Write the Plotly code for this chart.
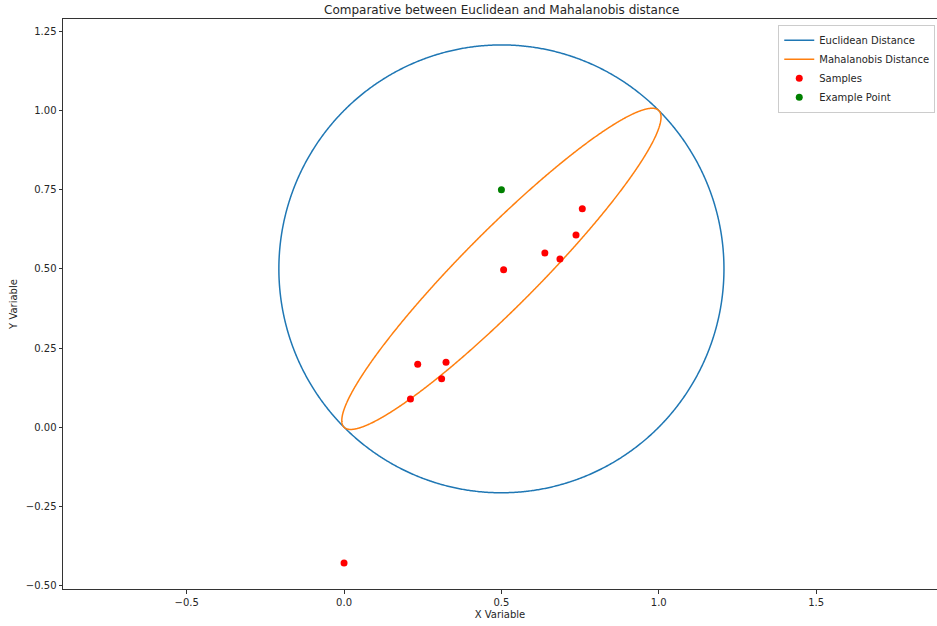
import numpy as np
import plotly.graph_objects as go

# Sample observations
sample_x = [0.0, 0.234, 0.324, 0.310, 0.211, 0.507, 0.638, 0.686, 0.737, 0.757]
sample_y = [-0.429, 0.199, 0.205, 0.153, 0.089, 0.497, 0.550, 0.531, 0.607, 0.690]

# Point used for the comparison
example_x = [0.5]
example_y = [0.75]

# Shared centre of both distance contours
center = (0.5, 0.5)
euclid_radius = 0.7071          # circle radius
maha_semi_major = 0.7071        # ellipse half-length along the main diagonal
maha_semi_minor = 0.12          # ellipse half-width across it
maha_angle_deg = 45.0

# Axis ticks
x_tick_vals = [-0.5, 0.0, 0.5, 1.0, 1.5]
x_tick_text = ["\u22120.5", "0.0", "0.5", "1.0", "1.5"]
y_tick_vals = [-0.5, -0.25, 0.0, 0.25, 0.5, 0.75, 1.0, 1.25]
y_tick_text = ["\u22120.50", "\u22120.25", "0.00", "0.25", "0.50", "0.75", "1.00", "1.25"]

# Contour curves
t = np.linspace(0, 2 * np.pi, 1200)
circ_x = center[0] + euclid_radius * np.cos(t)
circ_y = center[1] + euclid_radius * np.sin(t)

th = np.deg2rad(maha_angle_deg)
ex = maha_semi_major * np.cos(t)
ey = maha_semi_minor * np.sin(t)
ell_x = center[0] + ex * np.cos(th) - ey * np.sin(th)
ell_y = center[1] + ex * np.sin(th) + ey * np.cos(th)

FONT = "DejaVu Sans"

fig = go.Figure()
fig.add_trace(go.Scatter(x=circ_x, y=circ_y, mode="lines", name="Euclidean Distance",
                         line=dict(color="#1f77b4", width=1.5, simplify=False)))
fig.add_trace(go.Scatter(x=ell_x, y=ell_y, mode="lines", name="Mahalanobis Distance",
                         line=dict(color="#ff7f0e", width=1.5, simplify=False)))
fig.add_trace(go.Scatter(x=sample_x, y=sample_y, mode="markers", name="Samples",
                         marker=dict(color="red", size=7, line=dict(width=0))))
fig.add_trace(go.Scatter(x=example_x, y=example_y, mode="markers", name="Example Point",
                         marker=dict(color="green", size=7, line=dict(width=0))))

axis_common = dict(
    showgrid=False, zeroline=False, showline=True, linecolor="#333333", linewidth=1,
    ticks="outside", ticklen=3.5, tickwidth=0.8, tickcolor="#333333",
    tickfont=dict(family=FONT, size=10, color="#262626"),
)

fig.update_layout(
    width=937, height=626,
    margin=dict(l=63, r=0, t=19, b=37),
    paper_bgcolor="white", plot_bgcolor="white",
    font=dict(family=FONT, size=10, color="#262626"),
    title=dict(text="Comparative between Euclidean and Mahalanobis distance",
               x=0.5355, xanchor="center", y=0.985, yanchor="middle",
               font=dict(family=FONT, size=12, color="#262626")),
    xaxis=dict(range=[-0.893, 1.884], tickvals=x_tick_vals, ticktext=x_tick_text,
               mirror=True,
               title=dict(text="X Variable", font=dict(family=FONT, size=10), standoff=4),
               **axis_common),
    yaxis=dict(range=[-0.511, 1.289], tickvals=y_tick_vals, ticktext=y_tick_text,
               title=dict(text="Y Variable", font=dict(family=FONT, size=10), standoff=6),
               **axis_common),
    legend=dict(x=0.998, xanchor="right", y=0.99, yanchor="top",
                bgcolor="rgba(255,255,255,0.8)", bordercolor="#cccccc", borderwidth=1,
                font=dict(family=FONT, size=10, color="#262626"),
                itemwidth=30, tracegroupgap=0),
    showlegend=True,
)

fig.write_html("out.html")
